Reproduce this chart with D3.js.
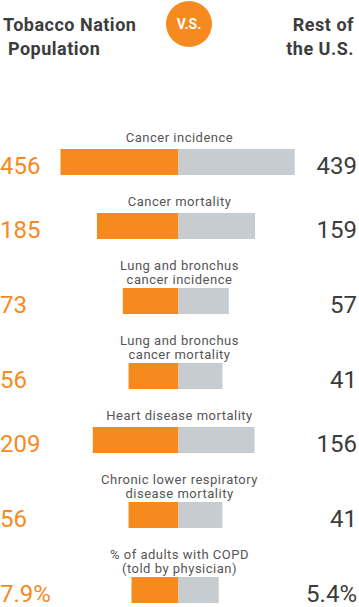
<!DOCTYPE html>
<html>
<head>
<meta charset="utf-8">
<script src="https://cdn.jsdelivr.net/npm/d3@7"></script>
<style>
  html, body { margin: 0; padding: 0; background: #fff; }
  svg { display: block; }
  text { font-family: Roboto, "Noto Sans", sans-serif; }
</style>
</head>
<body>
<script>
// ---- data ----
const labels = [
  ["Cancer incidence"],
  ["Cancer mortality"],
  ["Lung and bronchus", "cancer incidence"],
  ["Lung and bronchus", "cancer mortality"],
  ["Heart disease mortality"],
  ["Chronic lower respiratory", "disease mortality"],
  ["% of adults with COPD", "(told by physician)"]
];
const tobaccoNation = [456, 185, 73, 56, 209, 56, 7.9];
const restOfUS      = [439, 159, 57, 41, 156, 41, 5.4];
const valueText = ["", "", "", "", "", "", "%"];   // unit suffix
const isPercent = [false, false, false, false, false, false, true];
const headerLeft  = ["Tobacco Nation", "\u00A0Population"];
const headerRight = ["Rest of", "the U.S."];
const vsText = "V.S.";

// ---- styles ----
const W = 359, H = 607;
const orange = "#F68A1F", grey = "#C6CCCF", dark = "#3c3c3c", labelCol = "#555555";
const cx = 178.5;

const svg = d3.select("body").append("svg").attr("width", W).attr("height", H);

// header
const hl = svg.append("text")
  .attr("font-size", 18).attr("font-weight", 700).attr("letter-spacing", 0.5).attr("fill", dark);
headerLeft.forEach((t, i) => hl.append("tspan").attr("x", 3).attr("y", 31 + i * 24).text(t));
const hr = svg.append("text").attr("text-anchor", "end")
  .attr("font-size", 18).attr("font-weight", 700).attr("letter-spacing", 0.5).attr("fill", dark);
headerRight.forEach((t, i) => hr.append("tspan").attr("x", 354).attr("y", 31 + i * 24).text(t));
svg.append("circle").attr("cx", 189).attr("cy", 24).attr("r", 23).attr("fill", orange);
svg.append("text").attr("x", 189).attr("y", 29).attr("text-anchor", "middle")
  .attr("font-size", 14).attr("font-weight", 700).attr("fill", "#fff").text(vsText);

// scales
const sCount = d3.scalePow().exponent(0.41).domain([0, 456]).range([0, 118]);
const sPct   = d3.scalePow().exponent(0.41).domain([0, 7.9]).range([0, 47]);

// layout
const barH = 26, lineH = 14;
let rows = [];
let baseline = 142;
labels.forEach((lab, i) => {
  const n = lab.length;
  const top = baseline + (n - 1) * lineH + (n === 1 ? 7 : 4);
  rows.push({ i, lab, baseline, top });
  baseline = top + barH + 31;
});

const fmt = (v, i) => (isPercent[i] ? d3.format(".1f")(v) : d3.format("d")(v)) + valueText[i];

const g = svg.selectAll("g.row").data(rows).join("g").attr("class", "row");

g.each(function (d) {
  const sel = d3.select(this);
  const sc = isPercent[d.i] ? sPct : sCount;
  const t = sel.append("text").attr("text-anchor", "middle")
    .attr("font-size", 13).attr("font-weight", 400).attr("letter-spacing", 0.5).attr("fill", labelCol);
  d.lab.forEach((l, k) => t.append("tspan").attr("x", cx + 1).attr("y", d.baseline + k * lineH).text(l));

  const wl = sc(tobaccoNation[d.i]), wr = sc(restOfUS[d.i]);
  sel.append("rect").attr("x", cx - wl).attr("y", d.top).attr("width", wl).attr("height", barH).attr("fill", orange);
  sel.append("rect").attr("x", cx).attr("y", d.top).attr("width", wr).attr("height", barH).attr("fill", grey);

  sel.append("text").attr("x", 0).attr("y", d.top + barH - 1)
    .attr("font-size", 24).attr("fill", orange).text(fmt(tobaccoNation[d.i], d.i));
  sel.append("text").attr("x", 357).attr("y", d.top + barH - 1).attr("text-anchor", "end")
    .attr("font-size", 24).attr("fill", dark).text(fmt(restOfUS[d.i], d.i));
});
</script>
</body>
</html>
